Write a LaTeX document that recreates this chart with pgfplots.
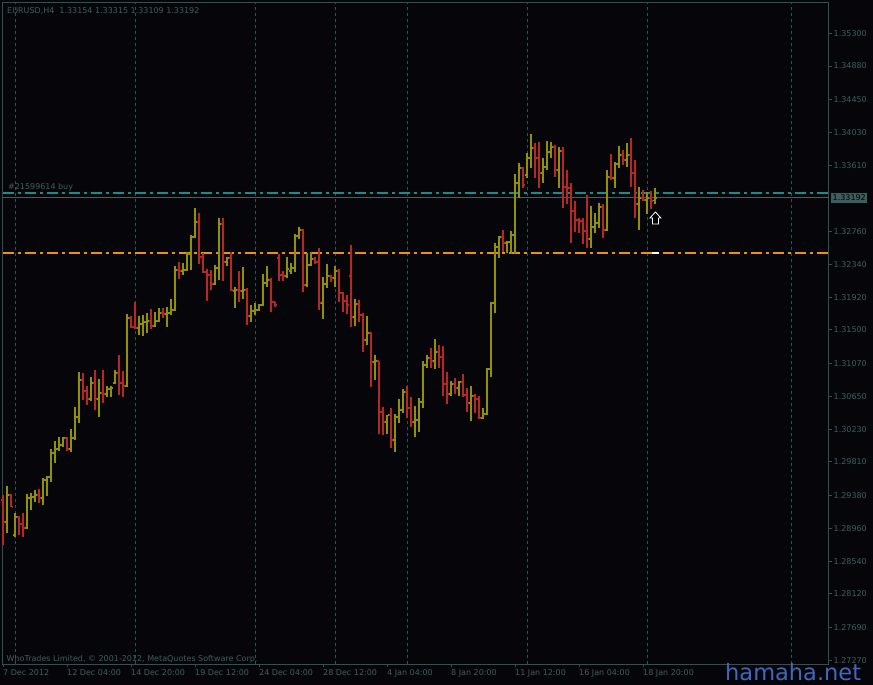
\documentclass[border=0pt]{standalone}
\usepackage{pgfplots}
\pgfplotsset{compat=1.18}
\usepackage{pgfplotstable}
\usepackage{fontspec}
\setmainfont{DejaVu Sans}
\definecolor{bg}{RGB}{6,6,10}
\definecolor{fg}{RGB}{47,82,82}
\definecolor{txt}{RGB}{58,96,96}
\definecolor{upc}{RGB}{145,145,4}
\definecolor{dnc}{RGB}{185,38,38}
\definecolor{tealc}{RGB}{30,138,138}
\definecolor{orc}{RGB}{240,145,10}
\definecolor{pricec}{RGB}{70,96,96}
\definecolor{boxc}{RGB}{62,94,94}
\definecolor{wm}{RGB}{66,103,190}

\pgfplotstableread{
i o h l c
0 1.29323 1.29387 1.28746 1.29040
1 1.29040 1.29502 1.28900 1.29387
2 1.29387 1.29400 1.29233 1.29233
3 1.28874 1.29156 1.28848 1.29104
4 1.29104 1.29117 1.28874 1.29015
5 1.29015 1.29156 1.28848 1.28964
6 1.28964 1.29400 1.28951 1.29349
7 1.29349 1.29413 1.29194 1.29362
8 1.29362 1.29451 1.29297 1.29387
9 1.29387 1.29464 1.29284 1.29349
10 1.29349 1.29605 1.29259 1.29579
11 1.29579 1.29630 1.29374 1.29617
12 1.29617 1.29976 1.29553 1.29925
13 1.29925 1.30078 1.29797 1.29976
14 1.29976 1.30129 1.29950 1.30027
15 1.30027 1.30129 1.30001 1.30116
16 1.30116 1.30129 1.29950 1.29976
17 1.29976 1.30232 1.29938 1.30116
18 1.30116 1.30513 1.30091 1.30385
19 1.30385 1.30962 1.30309 1.30860
20 1.30860 1.30950 1.30603 1.30718
21 1.30718 1.30783 1.30539 1.30616
22 1.30616 1.30898 1.30590 1.30822
23 1.30822 1.30988 1.30475 1.30616
24 1.30616 1.30873 1.30385 1.30693
25 1.30693 1.30988 1.30565 1.30680
26 1.30680 1.30783 1.30642 1.30744
27 1.30744 1.30783 1.30642 1.30757
28 1.30822 1.30988 1.30809 1.30950
29 1.30950 1.31180 1.30667 1.30822
30 1.30822 1.30975 1.30642 1.30783
31 1.30783 1.31705 1.30770 1.31654
32 1.31654 1.31679 1.31526 1.31538
33 1.31538 1.31858 1.31513 1.31526
34 1.31526 1.31679 1.31436 1.31577
35 1.31577 1.31692 1.31423 1.31602
36 1.31602 1.31718 1.31462 1.31615
37 1.31615 1.31769 1.31513 1.31551
38 1.31551 1.31730 1.31538 1.31615
39 1.31615 1.31782 1.31602 1.31718
40 1.31718 1.31782 1.31654 1.31705
41 1.31705 1.31794 1.31538 1.31718
42 1.31718 1.31897 1.31692 1.31756
43 1.31756 1.32319 1.31743 1.32268
44 1.32268 1.32370 1.32153 1.32255
45 1.32255 1.32358 1.32204 1.32268
46 1.32268 1.32498 1.32255 1.32473
47 1.32473 1.32717 1.32268 1.32691
48 1.32691 1.33063 1.32679 1.32883
49 1.32883 1.32999 1.32345 1.32434
50 1.32434 1.32486 1.32230 1.32243
51 1.32243 1.32281 1.31871 1.32204
52 1.32204 1.32268 1.32012 1.32089
53 1.32089 1.32332 1.32076 1.32294
54 1.32294 1.32935 1.32140 1.32858
55 1.32858 1.32935 1.32128 1.32370
56 1.32370 1.32434 1.32319 1.32422
57 1.32422 1.32498 1.31999 1.32012
58 1.31999 1.32051 1.31782 1.32012
59 1.32012 1.32255 1.31858 1.31999
60 1.31999 1.32307 1.31897 1.32012
61 1.32012 1.32038 1.31564 1.31679
62 1.31679 1.31820 1.31602 1.31743
63 1.31743 1.31846 1.31692 1.31756
64 1.31756 1.31833 1.31743 1.31820
65 1.31820 1.32217 1.31807 1.32102
66 1.32102 1.32319 1.32051 1.32140
67 1.32140 1.32166 1.31730 1.31858
68 1.31858 1.31858 1.31794 1.31820
69 1.32422 1.32473 1.32128 1.32204
70 1.32204 1.32255 1.32128 1.32191
71 1.32191 1.32434 1.32166 1.32281
72 1.32255 1.32358 1.32217 1.32294
73 1.32294 1.32730 1.32243 1.32704
74 1.32704 1.32819 1.32666 1.32781
75 1.32781 1.32793 1.31987 1.32076
76 1.32076 1.32486 1.32051 1.32332
77 1.32332 1.32498 1.32319 1.32409
78 1.32409 1.32434 1.32345 1.32370
79 1.32370 1.32550 1.31756 1.31846
80 1.31846 1.32179 1.31641 1.32089
81 1.32089 1.32345 1.32038 1.32191
82 1.32191 1.32204 1.32115 1.32166
83 1.32166 1.32319 1.32051 1.32255
84 1.32255 1.32281 1.31858 1.31974
85 1.31974 1.31987 1.31730 1.31871
86 1.31871 1.31948 1.31705 1.31820
87 1.32191 1.32589 1.31538 1.31666
88 1.31666 1.31897 1.31551 1.31833
89 1.31833 1.31884 1.31602 1.31692
90 1.31692 1.31718 1.31218 1.31372
91 1.31372 1.31679 1.31308 1.31462
92 1.31462 1.31474 1.30770 1.31090
93 1.31090 1.31180 1.30860 1.31103
94 1.31103 1.31103 1.30168 1.30449
95 1.30449 1.30513 1.30155 1.30322
96 1.30322 1.30411 1.30168 1.30411
97 1.30411 1.30501 1.29989 1.30091
98 1.30091 1.30424 1.29938 1.30385
99 1.30385 1.30616 1.30309 1.30475
100 1.30475 1.30744 1.30437 1.30706
101 1.30706 1.30783 1.30373 1.30501
102 1.30501 1.30642 1.30257 1.30322
103 1.30322 1.30526 1.30129 1.30347
104 1.30347 1.30629 1.30194 1.30578
105 1.30578 1.31103 1.30501 1.31052
106 1.31052 1.31180 1.31013 1.31142
107 1.31142 1.31270 1.31013 1.31103
108 1.31103 1.31385 1.31001 1.31218
109 1.31218 1.31308 1.31013 1.31154
110 1.31154 1.31295 1.30655 1.30809
111 1.30809 1.30962 1.30552 1.30680
112 1.30680 1.30847 1.30655 1.30809
113 1.30809 1.30886 1.30680 1.30757
114 1.30757 1.30847 1.30655 1.30834
115 1.30834 1.30937 1.30642 1.30667
116 1.30667 1.30757 1.30449 1.30565
117 1.30565 1.30783 1.30334 1.30655
118 1.30655 1.30680 1.30437 1.30616
119 1.30616 1.30655 1.30360 1.30373
120 1.30373 1.30501 1.30360 1.30424
121 1.30424 1.31013 1.30411 1.31001
122 1.31001 1.31858 1.30898 1.31846
123 1.31846 1.32614 1.31718 1.32563
124 1.32563 1.32704 1.32422 1.32691
125 1.32691 1.32781 1.32498 1.32614
126 1.32614 1.32640 1.32486 1.32627
127 1.32627 1.32768 1.32473 1.32717
128 1.32717 1.33498 1.32473 1.33383
129 1.33383 1.33639 1.33191 1.33575
130 1.33575 1.33588 1.33319 1.33357
131 1.33485 1.33767 1.33447 1.33703
132 1.33703 1.34010 1.33575 1.33831
133 1.33831 1.33895 1.33447 1.33703
134 1.33703 1.33908 1.33319 1.33511
135 1.33511 1.33703 1.33383 1.33588
136 1.33588 1.33921 1.33549 1.33780
137 1.33780 1.33908 1.33703 1.33844
138 1.33844 1.33869 1.33460 1.33549
139 1.33549 1.33844 1.33319 1.33793
140 1.33793 1.33844 1.33063 1.33332
141 1.33332 1.33549 1.33114 1.33319
142 1.33319 1.33383 1.32614 1.33024
143 1.33024 1.33152 1.32755 1.32909
144 1.32909 1.32935 1.32742 1.32896
145 1.32896 1.32935 1.32601 1.32768
146 1.32768 1.33229 1.32550 1.32666
147 1.32666 1.33088 1.32550 1.32819
148 1.32819 1.32999 1.32742 1.32870
149 1.32870 1.33126 1.32806 1.33075
150 1.33075 1.33114 1.32679 1.32781
151 1.32781 1.33549 1.32768 1.33460
152 1.33460 1.33754 1.33421 1.33447
153 1.33447 1.33651 1.33319 1.33626
154 1.33626 1.33857 1.33575 1.33741
155 1.33741 1.33805 1.33613 1.33677
156 1.33677 1.33895 1.33588 1.33741
157 1.33741 1.33959 1.33332 1.33511
158 1.33511 1.33677 1.32935 1.33114
159 1.33114 1.33332 1.32781 1.33191
160 1.33191 1.33293 1.33152 1.33165
161 1.33165 1.33267 1.32986 1.33191
162 1.33191 1.33280 1.33050 1.33152
163 1.33154 1.33315 1.33109 1.33192
}\bars

\pgfplotsset{
  ohlcUp/.style={restrict expr to domain={\thisrow{c}-\thisrow{o}}{0:1}},
  ohlcDn/.style={restrict expr to domain={\thisrow{c}-\thisrow{o}}{-1:0}},
  ohlcSpan/.style={mark=none,
    quiver={u=0, v=\thisrow{h}-\thisrow{l}, every arrow/.append style={draw=#1, line width=1.25pt}}},
  ohlcTick/.style={mark=none,
    quiver={u=0.375, v=0, every arrow/.append style={draw=#1, line width=1.3pt}}},
}

\begin{document}
\begin{tikzpicture}
\useasboundingbox (0pt,0pt) rectangle (873pt,685pt);
\fill[bg] (0pt,0pt) rectangle (873pt,685pt);
\begin{axis}[
  at={(2.5pt,20.5pt)}, anchor=south west,
  scale only axis, width=826pt, height=662pt,
  xmin=-0.125, xmax=206.375, ymin=1.27216, ymax=1.35694,
  clip=false,
  axis line style={fg, line width=1pt},
  tick align=outside, major tick length=3pt,
  tick style={fg, line width=1pt},
  xtick pos=lower, ytick pos=right, yticklabel pos=right,
  scaled y ticks=false,
  xtick={0,16,32,48,64,80,96,112,128,144,160},
  xticklabels={7 Dec 2012,12 Dec 04:00,14 Dec 20:00,19 Dec 12:00,24 Dec 04:00,28 Dec 12:00,4 Jan 04:00,8 Jan 20:00,11 Jan 12:00,16 Jan 04:00,18 Jan 20:00},
  ytick={1.27270,1.27690,1.28120,1.28540,1.28960,1.29380,1.29810,1.30230,1.30650,1.31070,1.31500,1.31920,1.32340,1.32760,1.33610,1.34030,1.34450,1.34880,1.35300},
  every tick label/.append style={font=\fontsize{8}{9.6}\selectfont, text=txt},
  xticklabel style={anchor=north west, inner xsep=0pt, inner ysep=2pt},
  yticklabel style={anchor=west, inner xsep=2pt, /pgf/number format/.cd, fixed, fixed zerofill, precision=5, assume math mode=true},
  extra x ticks={3.125,33.125,63.125,83.125,101.125,131.125,161.125,197.125},
  extra x tick labels={},
  extra x tick style={grid=major, major tick length=0pt},
  major grid style={draw=fg, line width=1pt, dash pattern=on 3pt off 3pt},
]
% order levels
\addplot[draw=orc, line width=1.5pt, dash pattern=on 11pt off 4pt on 3pt off 4pt] coordinates {(-0.125,1.32486) (206.375,1.32486)};
\addplot[draw=tealc, line width=1.5pt, dash pattern=on 11pt off 4pt on 3pt off 4pt] coordinates {(-0.125,1.33254) (206.375,1.33254)};
\addplot[draw=pricec, line width=1.2pt] coordinates {(-0.125,1.33192) (206.375,1.33192)};
\addplot[draw=white, line width=1.5pt] coordinates {(162.2,1.32486) (164,1.32486)};
% up bars: high-low, open tick, close tick
\addplot[upc, ohlcUp, ohlcSpan=upc] table[x=i, y=l] {\bars};
\addplot[upc, ohlcUp, ohlcTick=upc] table[x expr=\thisrow{i}-0.5, y=o] {\bars};
\addplot[upc, ohlcUp, ohlcTick=upc] table[x expr=\thisrow{i}+0.125, y=c] {\bars};
% down bars
\addplot[dnc, ohlcDn, ohlcSpan=dnc] table[x=i, y=l] {\bars};
\addplot[dnc, ohlcDn, ohlcTick=dnc] table[x expr=\thisrow{i}-0.5, y=o] {\bars};
\addplot[dnc, ohlcDn, ohlcTick=dnc] table[x expr=\thisrow{i}+0.125, y=c] {\bars};
\coordinate (pbox) at (axis cs:206.375,1.33192);
\coordinate (arw) at (axis cs:163.1,1.33011);
\end{axis}
% current price box
\node[fill=boxc, text=black, anchor=west, inner xsep=1.5pt, inner ysep=1pt, minimum height=9.5pt, font=\fontsize{8}{9.6}\selectfont] at ([xshift=2.5pt]pbox) {1.33192};
% arrow object
\draw[white, fill=black, line width=0.8pt] (arw) -- ++(-5.5pt,-6pt) -- ++(2.5pt,0pt) -- ++(0pt,-6pt) -- ++(6pt,0pt) -- ++(0pt,6pt) -- ++(2.5pt,0pt) -- cycle;
% texts
\node[anchor=base west, inner sep=0pt, text=txt, font=\fontsize{8}{9.6}\selectfont] at (7pt,671pt) {EURUSD,H4~~1.33154 1.33315 1.33109 1.33192};
\node[anchor=base west, inner sep=0pt, text=txt, font=\fontsize{8}{9.6}\selectfont] at (8pt,495.5pt) {\#21599614 buy};
\node[anchor=base west, inner sep=0pt, text=txt, font=\fontsize{8}{9.6}\selectfont] at (6.5pt,23pt) {WhoTrades Limited, © 2001-2012, MetaQuotes Software Corp.};
\node[anchor=base west, inner sep=0pt, text=wm, font=\fontsize{22.5}{26}\selectfont] at (725pt,4.5pt) {hamaha.net};
\end{tikzpicture}
\end{document}
